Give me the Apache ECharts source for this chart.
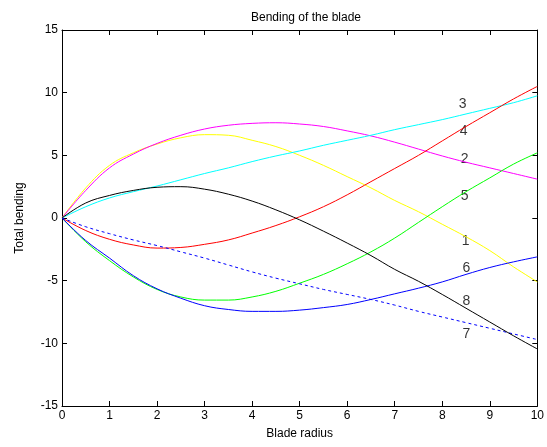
<!DOCTYPE html>
<html>
<head>
<meta charset="utf-8">
<script src="https://cdn.jsdelivr.net/npm/echarts@6/dist/echarts.min.js"></script>
<style>
  html, body { margin: 0; padding: 0; background: #fff; }
  #main { width: 547px; height: 447px; }
</style>
</head>
<body>
<div id="main"></div>
<script>
// blade radius samples
var radius = [0, 0.5, 1, 1.5, 2, 2.5, 3, 3.5, 4, 4.5, 5, 5.5, 6, 6.5, 7, 7.5, 8, 8.5, 9, 9.5, 10];

// bending for each case
var bend1 = [0, 2.4, 4.2, 5.2, 5.9, 6.4, 6.65, 6.6, 6.2, 5.7, 5.0, 4.2, 3.3, 2.4, 1.4, 0.5, -0.5, -1.5, -2.6, -3.9, -5.1];
var bend2 = [0, 2.2, 4.0, 5.1, 5.95, 6.6, 7.1, 7.4, 7.55, 7.6, 7.5, 7.3, 6.95, 6.55, 6.05, 5.5, 4.95, 4.45, 4.0, 3.55, 3.1];
var bend3 = [0, 0.9, 1.6, 2.1, 2.55, 3.05, 3.55, 4.0, 4.5, 4.95, 5.35, 5.8, 6.2, 6.6, 7.05, 7.45, 7.85, 8.3, 8.75, 9.2, 9.75];
var bend4 = [0, -1.0, -1.7, -2.15, -2.4, -2.35, -2.1, -1.75, -1.2, -0.6, 0.1, 0.9, 1.85, 2.9, 3.95, 5.0, 6.15, 7.3, 8.4, 9.5, 10.5];
var bend5 = [0, -1.9, -3.4, -4.7, -5.7, -6.3, -6.55, -6.55, -6.3, -5.85, -5.2, -4.5, -3.65, -2.7, -1.6, -0.35, 0.9, 2.1, 3.2, 4.3, 5.2];
var bend6 = [0, -1.8, -3.2, -4.6, -5.65, -6.4, -7.0, -7.3, -7.45, -7.45, -7.35, -7.15, -6.9, -6.5, -6.05, -5.6, -5.1, -4.5, -3.95, -3.5, -3.1];
var bend7 = [0, -0.7, -1.25, -1.75, -2.2, -2.7, -3.2, -3.75, -4.3, -4.8, -5.25, -5.7, -6.1, -6.5, -6.95, -7.45, -7.9, -8.35, -8.8, -9.25, -9.7];
var bend8 = [0, 1.2, 1.8, 2.2, 2.45, 2.5, 2.3, 1.9, 1.35, 0.65, -0.15, -1.05, -2.0, -3.0, -4.1, -5.05, -6.1, -7.2, -8.3, -9.4, -10.45];

// curve labels (x, y, text)
var labelX = [8.43, 8.45, 8.47, 8.47, 8.49, 8.51, 8.51, 8.51];
var labelY = [9.1, 6.94, 4.7, 1.76, -1.84, -4.0, -6.6, -9.26];
var labelText = ['3', '4', '2', '5', '1', '6', '8', '7'];

var xTicks = [0, 10, 1];
var yTicks = [-15, 15, 5];

(function () {
    var chart = echarts.init(document.getElementById('main'));
    var font = 'Liberation Sans';

    var pair = function (ys) {
        return radius.map(function (x, i) { return [x, ys[i]]; });
    };
    var curve = function (name, ys, color, dashed) {
        return {
            name: name,
            type: 'line',
            data: pair(ys),
            smooth: 0.4,
            showSymbol: false,
            symbol: 'none',
            animation: false,
            lineStyle: { color: color, width: 1, type: dashed ? [3, 3] : 'solid' }
        };
    };

    var labels = labelText.map(function (t, i) {
        return { value: [labelX[i], labelY[i]], label: { formatter: t } };
    });

    var tickStyle = { show: true, inside: true, length: 5, lineStyle: { color: '#000', width: 1 } };
    var lineStyle = { show: true, onZero: false, lineStyle: { color: '#000', width: 1 } };

    var option = {
        backgroundColor: '#fff',
        animation: false,
        title: {
            text: 'Bending of the blade',
            left: 301, top: 7,
            textAlign: 'center',
            textStyle: { fontFamily: font, fontSize: 12, fontWeight: 'normal', color: '#000' }
        },
        grid: { left: 62, right: 7, top: 30, bottom: 41 },
        xAxis: [{
            type: 'value', min: xTicks[0], max: xTicks[1], interval: xTicks[2],
            name: 'Blade radius', nameLocation: 'middle', nameGap: 22,
            nameTextStyle: { fontFamily: font, fontSize: 12, color: '#000' },
            axisLine: lineStyle, axisTick: tickStyle,
            axisLabel: { fontFamily: font, fontSize: 12, color: '#000', margin: 4 },
            splitLine: { show: false }
        }, {
            type: 'value', position: 'top', min: xTicks[0], max: xTicks[1], interval: xTicks[2],
            axisLine: lineStyle, axisTick: tickStyle,
            axisLabel: { show: false }, splitLine: { show: false }
        }],
        yAxis: [{
            type: 'value', min: yTicks[0], max: yTicks[1], interval: yTicks[2],
            name: 'Total bending', nameLocation: 'middle', nameGap: 36,
            nameTextStyle: { fontFamily: font, fontSize: 12, color: '#000' },
            axisLine: lineStyle, axisTick: tickStyle,
            axisLabel: { fontFamily: font, fontSize: 12, color: '#000', margin: 4 },
            splitLine: { show: false }
        }, {
            type: 'value', position: 'right', min: yTicks[0], max: yTicks[1], interval: yTicks[2],
            axisLine: lineStyle, axisTick: tickStyle,
            axisLabel: { show: false }, splitLine: { show: false }
        }],
        series: [
            curve('1', bend1, '#ffff00'),
            curve('2', bend2, '#ff00ff'),
            curve('3', bend3, '#00ffff'),
            curve('4', bend4, '#ff0000'),
            curve('5', bend5, '#00ff00'),
            curve('6', bend6, '#0000ff'),
            curve('7', bend7, '#0000ff', true),
            curve('8', bend8, '#000000'),
            {
                type: 'scatter',
                data: labels,
                symbolSize: 0,
                silent: true,
                label: {
                    show: true, position: 'inside',
                    fontFamily: font, fontSize: 14, color: '#000'
                }
            }
        ]
    };
    chart.setOption(option);
}());
</script>
</body>
</html>
